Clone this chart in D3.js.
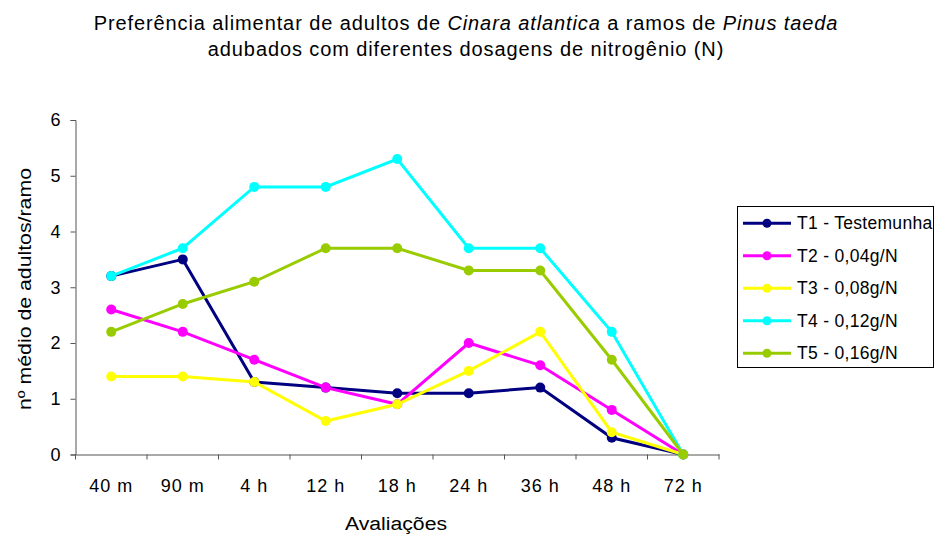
<!DOCTYPE html>
<html>
<head>
<meta charset="utf-8">
<script src="https://cdn.jsdelivr.net/npm/d3@7"></script>
<style>
	body { margin: 0; background: #fff; }
	svg { font-family: "Liberation Sans", Arial, sans-serif; }
</style>
</head>
<body>
<div class="chart"></div>
<script>
	// avaliacoes (eixo x)
	var categories = ['40 m', '90 m', '4 h', '12 h', '18 h', '24 h', '36 h', '48 h', '72 h'];
	var seriesNames = ['T1 - Testemunha', 'T2 - 0,04g/N', 'T3 - 0,08g/N', 'T4 - 0,12g/N', 'T5 - 0,16g/N'];
	var seriesColors = ['#000080', '#ff00ff', '#ffff00', '#00ffff', '#99cc00'];
	var t1 = [3.2, 3.5, 1.3, 1.2, 1.1, 1.1, 1.2, 0.3, 0];
	var t2 = [2.6, 2.2, 1.7, 1.2, 0.9, 2.0, 1.6, 0.8, 0];
	var t3 = [1.4, 1.4, 1.3, 0.6, 0.9, 1.5, 2.2, 0.4, 0];
	var t4 = [3.2, 3.7, 4.8, 4.8, 5.3, 3.7, 3.7, 2.2, 0];
	var t5 = [2.2, 2.7, 3.1, 3.7, 3.7, 3.3, 3.3, 1.7, 0];
	var yTicks = [0, 1, 2, 3, 4, 5, 6];

	var series = [t1, t2, t3, t4, t5];

	var width = 935;
	var height = 536;
	var svg = d3.select('.chart').append('svg')
		.attr('width', width)
		.attr('height', height);

	// plot area (note: "top" is reserved on window, so use other names)
	var plotLeft = 75.5, plotRight = 719, plotTop = 120, plotBottom = 454.5;

	var x = d3.scaleBand().domain(categories).range([plotLeft, plotRight]);
	var y = d3.scaleLinear().domain([0, 6]).range([plotBottom, plotTop]);

	// titulo
	var title = svg.append('text')
		.attr('text-anchor', 'middle')
		.attr('font-size', 20)
		.attr('letter-spacing', 0.9)
		.attr('fill', '#000');
	var l1 = title.append('tspan').attr('x', 466).attr('y', 29.5);
	l1.append('tspan').text('Preferência alimentar de adultos de ');
	l1.append('tspan').attr('font-style', 'italic').text('Cinara atlantica');
	l1.append('tspan').text(' a ramos de ');
	l1.append('tspan').attr('font-style', 'italic').text('Pinus taeda');
	title.append('tspan').attr('x', 466).attr('y', 56)
		.text('adubados com diferentes dosagens de nitrogênio (N)');

	// eixo y
	var yAxis = svg.append('g')
		.attr('transform', 'translate(' + plotLeft + ',0)')
		.call(d3.axisLeft(y).tickValues(yTicks).tickSize(5).tickPadding(9).tickFormat(d3.format('d')));
	yAxis.selectAll('text')
		.attr('font-size', 18)
		.attr('font-family', null)
		.attr('letter-spacing', 1)
		.attr('fill', '#000');

	// eixo x, ticks nos limites das categorias
	var xAxis = svg.append('g')
		.attr('transform', 'translate(0,' + plotBottom + ')')
		.call(d3.axisBottom(x).tickSize(0).tickPadding(25));
	xAxis.selectAll('text')
		.attr('font-size', 18)
		.attr('font-family', null)
		.attr('letter-spacing', 1)
		.attr('fill', '#000');
	xAxis.selectAll('.bound')
		.data(d3.range(categories.length + 1))
		.enter().append('line')
		.attr('class', 'bound')
		.attr('x1', function(i) { return plotLeft + i * x.step(); })
		.attr('x2', function(i) { return plotLeft + i * x.step(); })
		.attr('y1', 0)
		.attr('y2', 5)
		.attr('stroke', '#555');
	svg.selectAll('.domain').attr('stroke', '#555');
	svg.selectAll('.tick line').attr('stroke', '#555');

	// titulos dos eixos
	svg.append('text')
		.attr('x', 396)
		.attr('y', 530)
		.attr('text-anchor', 'middle')
		.attr('font-size', 18)
		.attr('textLength', 102)
		.attr('lengthAdjust', 'spacingAndGlyphs')
		.text('Avaliações');
	svg.append('text')
		.attr('transform', 'translate(31,289) rotate(-90)')
		.attr('text-anchor', 'middle')
		.attr('font-size', 18)
		.attr('textLength', 242)
		.attr('lengthAdjust', 'spacingAndGlyphs')
		.text('nº médio de adultos/ramo');

	// series
	var line = d3.line()
		.x(function(d, i) { return x(categories[i]) + x.bandwidth() / 2; })
		.y(function(d) { return y(d); });

	series.forEach(function(values, s) {
		var g = svg.append('g').attr('class', 'series s' + s);
		g.append('path')
			.datum(values)
			.attr('d', line)
			.attr('fill', 'none')
			.attr('stroke', seriesColors[s])
			.attr('stroke-width', 3);
		g.selectAll('circle')
			.data(values)
			.enter().append('circle')
			.attr('cx', function(d, i) { return x(categories[i]) + x.bandwidth() / 2; })
			.attr('cy', function(d) { return y(d); })
			.attr('r', 5)
			.attr('fill', seriesColors[s]);
	});

	// legenda
	var legend = svg.append('g').attr('class', 'legend');
	legend.append('rect')
		.attr('x', 737.5)
		.attr('y', 206.5)
		.attr('width', 196)
		.attr('height', 161)
		.attr('fill', '#fff')
		.attr('stroke', '#000');
	seriesNames.forEach(function(name, s) {
		var ly = 223.3 + s * 32.5;
		legend.append('line')
			.attr('x1', 743).attr('x2', 791)
			.attr('y1', ly).attr('y2', ly)
			.attr('stroke', seriesColors[s])
			.attr('stroke-width', 3);
		legend.append('circle')
			.attr('cx', 767).attr('cy', ly).attr('r', 4.5)
			.attr('fill', seriesColors[s]);
		legend.append('text')
			.attr('x', 797).attr('y', ly + 6)
			.attr('font-size', 17.5)
			.attr('letter-spacing', 0.3)
			.text(name);
	});
</script>
</body>
</html>
